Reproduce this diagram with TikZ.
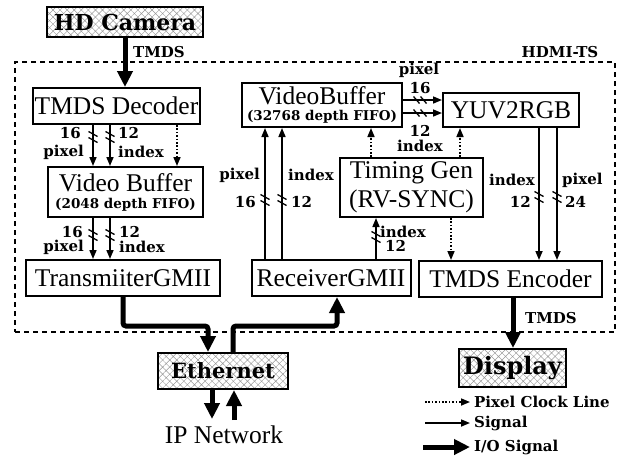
\documentclass[tikz,border=0pt]{standalone}
\usepackage{fontspec}
\setmainfont{Liberation Serif}
\newfontfamily\labf{DejaVu Serif}
\usetikzlibrary{arrows.meta,patterns.meta}
\tikzset{
  busv/.pic={\draw[line width=1.3pt] (-4.5,-5.5)--(4.5,-0.5) (-4.5,0.5)--(4.5,5.5);},
  bush/.pic={\draw[line width=1.3pt] (-6.5,-3.5)--(-0.5,3.5) (0.5,-3.5)--(6.5,3.5);}
}
\begin{document}
\begin{tikzpicture}[x=1pt,y=-1pt,
  box/.style={draw,line width=2pt,inner sep=0pt,font=\fontsize{25.5}{27}\selectfont,align=center},
  iobox/.style={draw,line width=2pt,inner sep=0pt,pattern={Hatch[distance=5pt,angle=45,line width=0.45pt]},pattern color=black!40},
  iofont/.style={font=\labf\bfseries\fontsize{#1}{#1}\selectfont},
  lab/.style={font=\labf\bfseries\fontsize{15}{16}\selectfont,inner sep=0pt},
  sig/.style={line width=1.6pt,-{Triangle[length=9pt,width=7pt]}},
  clk/.style={line width=1.6pt,dash pattern=on 1.6pt off 1.8pt,-{Triangle[length=9pt,width=7pt]}},
  io/.style={line width=5pt,rounded corners=3pt,-{Triangle[length=16pt,width=15pt]}}]
\useasboundingbox (0,0) rectangle (623,459);
% frame
\node[draw,line width=1.5pt,dash pattern=on 5pt off 4pt,minimum width=600pt,minimum height=270pt,inner sep=0pt] (ts) at (315,197) {};
\node[lab] (tsl) at (560,52) {HDMI-TS};
% boxes
\node[iobox,iofont=22,minimum width=156pt,minimum height=30pt] (cam) at (125,22) {HD Camera};
\node[box,minimum width=167pt,minimum height=36pt] (dec) at (116.5,106) {TMDS Decoder};
\node[box,minimum width=155pt,minimum height=50pt] (vb1) at (125.5,192) {Video Buffer\\[-10pt]{\labf\bfseries\fontsize{13.5}{14}\selectfont (2048 depth FIFO)}};
\node[box,minimum width=194pt,minimum height=36pt] (tx) at (123,278) {TransmiiterGMII};
\node[box,minimum width=160pt,minimum height=44pt] (vb2) at (322,105) {VideoBuffer\\[-11pt]{\labf\bfseries\fontsize{13.5}{14}\selectfont (32768 depth FIFO)}};
\node[box,minimum width=136pt,minimum height=34pt] (yuv) at (511,110) {YUV2RGB};
\node[box,minimum width=143pt,minimum height=59pt] (tg) at (411.5,187.5) {Timing Gen\\[2pt](RV-SYNC)};
\node[box,minimum width=159pt,minimum height=36pt] (rx) at (331,278) {ReceiverGMII};
\node[box,minimum width=183pt,minimum height=36pt] (enc) at (510.5,279) {TMDS Encoder};
\node[iobox,iofont=21,minimum width=130pt,minimum height=36pt] (eth) at (223,371) {Ethernet};
\node[iobox,iofont=24,minimum width=107pt,minimum height=38pt] (disp) at (512.5,368) {Display};
\node[font=\fontsize{25.5}{27}\selectfont,inner sep=0pt] (ip) at (224,435) {IP Network};
% I/O arrows
\draw[io] (125,0 |- cam.south) -- (125,0 |- dec.north);
\node[lab,anchor=west] (t1) at (133,52) {TMDS};
\draw[io] (123,0 |- tx.south) -- (123,326) -- (208,326) -- (208,0 |- eth.north);
\draw[io] (233,0 |- eth.north) -- (233,326) -- (337,326) -- (337,0 |- rx.south);
\draw[io] (212,0 |- eth.south) -- (212,419);
\draw[io] (234,420) -- (234,0 |- eth.south);
\draw[io] (513,0 |- enc.south) -- (513,0 |- disp.north);
\node[lab,anchor=west] (t2) at (525,318) {TMDS};
% decoder -> video buffer
\draw[sig] (93,0 |- dec.south) -- (93,0 |- vb1.north);
\draw[sig] (110,0 |- dec.south) -- (110,0 |- vb1.north);
\draw[clk] (177,0 |- dec.south) -- (177,0 |- vb1.north);
\pic at (93,137) {busv}; \pic at (110,137) {busv};
\node[lab,anchor=east] at (81,133) {16};
\node[lab,anchor=east] at (84,152) {pixel};
\node[lab,anchor=west] at (118,133) {12};
\node[lab,anchor=west] at (118,152) {index};
% video buffer -> transmitter
\draw[sig] (93,0 |- vb1.south) -- (93,0 |- tx.north);
\draw[sig] (110,0 |- vb1.south) -- (110,0 |- tx.north);
\pic at (93,235) {busv}; \pic at (110,235) {busv};
\node[lab,anchor=east] at (83,232) {16};
\node[lab,anchor=east] at (84,247) {pixel};
\node[lab,anchor=west] at (119,232) {12};
\node[lab,anchor=west] at (119,247) {index};
% receiver -> videobuffer2
\draw[sig] (265,0 |- rx.north) -- (265,0 |- vb2.south);
\draw[sig] (282,0 |- rx.north) -- (282,0 |- vb2.south);
\pic at (265,200) {busv}; \pic at (282,200) {busv};
\node[lab,anchor=east] at (260,175) {pixel};
\node[lab,anchor=east] at (256,202) {16};
\node[lab,anchor=west] at (288,175) {index};
\node[lab,anchor=west] at (291,202) {12};
% videobuffer2 -> yuv
\draw[sig] (vb2.east |- 0,100) -- (yuv.west |- 0,100);
\draw[sig] (vb2.east |- 0,113) -- (yuv.west |- 0,113);
\pic at (420,100) {bush}; \pic at (420,113) {bush};
\node[lab] at (419,70) {pixel};
\node[lab] at (420,88) {16};
\node[lab] at (420,131) {12};
\node[lab] at (420,146) {index};
% timing gen clocks
\draw[clk] (371,0 |- tg.north) -- (371,0 |- vb2.south);
\draw[clk] (460,0 |- tg.north) -- (460,0 |- yuv.south);
\draw[clk] (451,0 |- tg.south) -- (451,0 |- enc.north);
% receiver -> timing gen
\draw[sig] (376,0 |- rx.north) -- (376,0 |- tg.south);
\pic at (376,237) {busv};
\node[lab,anchor=west] at (380,232) {index};
\node[lab,anchor=west] at (385,246) {12};
% yuv -> encoder
\draw[sig] (539,0 |- yuv.south) -- (539,0 |- enc.north);
\draw[sig] (557,0 |- yuv.south) -- (557,0 |- enc.north);
\pic at (539,197) {busv}; \pic at (557,197) {busv};
\node[lab,anchor=east] at (535,180) {index};
\node[lab,anchor=east] at (531,202) {12};
\node[lab,anchor=west] at (562,180) {pixel};
\node[lab,anchor=west] at (565,202) {24};
% legend
\node[lab,anchor=west] (lg1) at (474,402) {Pixel Clock Line};
\node[lab,anchor=west] (lg2) at (474,423) {Signal};
\node[lab,anchor=west] (lg3) at (474,447) {I/O Signal};
\draw[clk] ([xshift=-49pt]lg1.west) -- ([xshift=-4pt]lg1.west);
\draw[sig] ([xshift=-49pt]lg2.west) -- ([xshift=-4pt]lg2.west);
\draw[io] ([xshift=-51pt]lg3.west) -- ([xshift=-4pt]lg3.west);
\end{tikzpicture}
\end{document}
